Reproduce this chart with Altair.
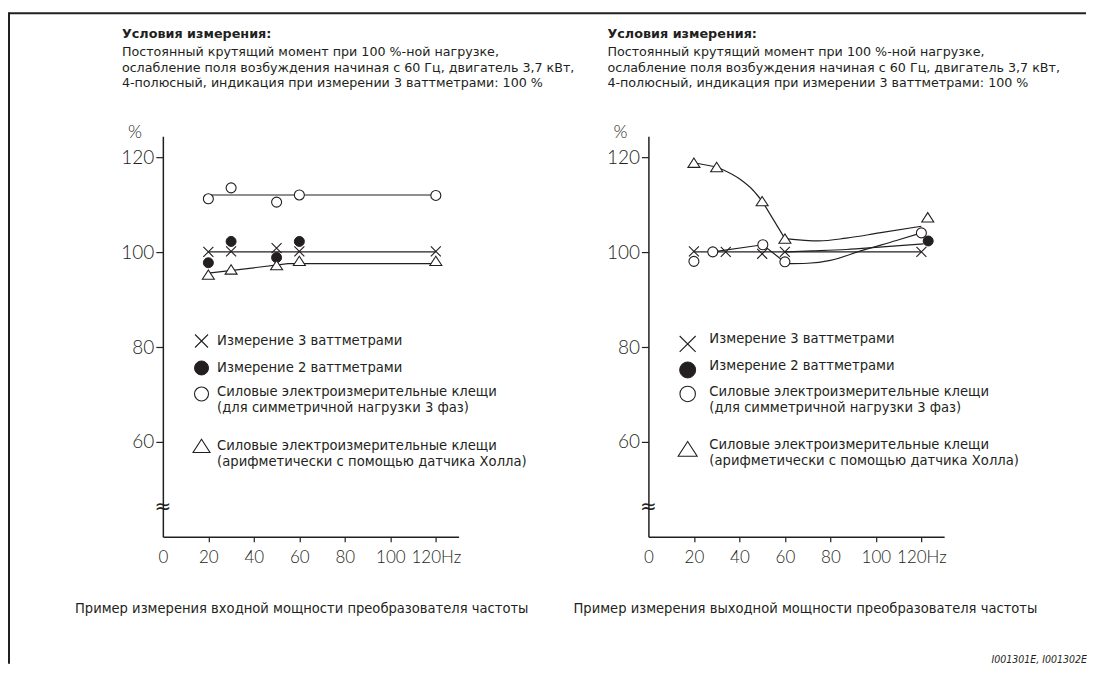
import altair as alt
import pandas as pd

INK = "#231f20"
TEXT_FONT = "DejaVu Sans"
NARROW_FONT = "DejaVu Sans Condensed"
NUM_FONT = "Lato"

HZ_TICKS = [0, 20, 40, 60, 80, 100, 120]
PCT_TICKS = [60, 80, 100, 120]

# ---------------- left panel: input power ----------------
L_W3_HZ = [20, 30, 50, 60, 120]
L_W3_PCT = [100.1, 100.2, 100.9, 100.2, 100.2]
L_W2_HZ = [20, 30, 50, 60]
L_W2_PCT = [97.8, 102.3, 98.9, 102.3]
L_SYM_HZ = [20, 30, 50, 60, 120]
L_SYM_PCT = [111.3, 113.6, 110.6, 112.1, 112.0]
L_HALL_HZ = [20, 30, 50, 60, 120]
L_HALL_PCT = [95.3, 96.4, 97.3, 98.2, 98.2]

L_W3_FIT_HZ = [20, 120]
L_W3_FIT_PCT = [100.1, 100.1]
L_SYM_FIT_HZ = [20, 120]
L_SYM_FIT_PCT = [112.1, 112.1]
L_HALL_FIT_HZ = [20, 55, 120]
L_HALL_FIT_PCT = [95.6, 97.6, 97.6]

# ---------------- right panel: output power ----------------
R_W3_HZ = [20, 34, 50, 60, 120]
R_W3_PCT = [100.2, 100.1, 99.7, 100.1, 100.1]
R_W2_HZ = [123]
R_W2_PCT = [102.4]
R_SYM_HZ = [20, 28.3, 50.3, 60, 120]
R_SYM_PCT = [98.1, 100.1, 101.6, 98.0, 104.1]
R_HALL_HZ = [20, 30, 50, 60, 122.8]
R_HALL_PCT = [118.9, 118.0, 110.8, 102.9, 107.4]

# straight connecting lines
R_W3_FIT_HZ = [20, 120]
R_W3_FIT_PCT = [100.1, 100.1]
R_SYM_SEG_HZ = [28.3, 50.3, 60]
R_SYM_SEG_PCT = [100.1, 101.6, 97.9]
R_HALL_SEG1_HZ = [20, 30]
R_HALL_SEG1_PCT = [118.9, 118.0]
R_HALL_SEG2_HZ = [50, 60]
R_HALL_SEG2_PCT = [110.8, 102.9]
# smooth curves
R_HALL_CURVE1_HZ = [30, 40, 46, 50]
R_HALL_CURVE1_PCT = [118.0, 115.5, 113.1, 110.8]
R_HALL_CURVE2_HZ = [60, 75, 87, 101.5, 120]
R_HALL_CURVE2_PCT = [102.9, 102.4, 103.0, 104.1, 105.5]
R_SYM_CURVE_HZ = [60, 70, 80, 94, 109, 120]
R_SYM_CURVE_PCT = [97.6, 97.7, 98.3, 100.4, 102.5, 104.1]
R_W2_CURVE_HZ = [60, 72, 87, 101.5, 121]
R_W2_CURVE_PCT = [100.1, 100.3, 100.6, 101.1, 101.8]

# ---------------- texts ----------------
HEADER_TITLE = "Условия измерения:"
HEADER_LINES = [
    "Постоянный крутящий момент при 100 %-ной нагрузке,",
    "ослабление поля возбуждения начиная с 60 Гц, двигатель 3,7 кВт,",
    "4-полюсный, индикация при измерении 3 ваттметрами: 100 %",
]
LEGEND_KINDS = ["w3", "w2", "sym", "hall"]
LEGEND_LINES = [
    ["Измерение 3 ваттметрами"],
    ["Измерение 2 ваттметрами"],
    ["Силовые электроизмерительные клещи", "(для симметричной нагрузки 3 фаз)"],
    ["Силовые электроизмерительные клещи", "(арифметически с помощью датчика Холла)"],
]
CAPTIONS = [
    "Пример измерения входной мощности преобразователя частоты",
    "Пример измерения выходной мощности преобразователя частоты",
]
CODE_LABEL = "I001301E, I001302E"
Y_UNIT = "%"
BREAK_MARK = "≈"

# ---------------- helpers ----------------
CROSS = "M-1,-1L1,1M-1,1L1,-1"
TRI = "M0,-0.78L1,0.78L-1,0.78Z"

STYLE = {
    "w3": dict(shape=CROSS, filled=False, stroke=INK, strokeWidth=1.1, opacity=1),
    "w2": dict(shape="circle", filled=True, fill=INK, stroke=INK, strokeWidth=1, opacity=1),
    "sym": dict(shape="circle", filled=True, fill="white", stroke=INK, strokeWidth=1.1, opacity=1),
    "hall": dict(shape=TRI, filled=True, fill="white", stroke=INK, strokeWidth=1.1, opacity=1),
}
DATA_SIZE = {"w3": 100, "w2": 100, "sym": 100, "hall": 144}

X_SCALE = alt.Scale(domain=[0, 130], nice=False, zero=False)
Y_SCALE = alt.Scale(domain=[40, 124.5], nice=False, zero=False)

X_AXIS = alt.Axis(
    values=HZ_TICKS, title=None, grid=False,
    labelExpr="datum.value == 120 ? '120Hz' : datum.label",
    labelFont=NUM_FONT, labelFontSize=17, labelFontWeight=300, labelColor=INK,
    labelFlush=False, labelOverlap=False, labelPadding=8,
    tickSize=5, tickColor=INK, tickWidth=1.2,
    tickOpacity={"condition": {"test": "datum.value === 0", "value": 0}, "value": 1},
    domainColor=INK, domainWidth=1.5,
)
Y_AXIS = alt.Axis(
    values=PCT_TICKS, title=None, grid=False,
    labelFont=NUM_FONT, labelFontSize=19, labelFontWeight=300, labelColor=INK,
    labelFlush=False, labelOverlap=False, labelPadding=2,
    tickSize=7, tickColor=INK, tickWidth=1.2,
    domainColor=INK, domainWidth=1.5,
)


def xy():
    return dict(
        x=alt.X("hz:Q", scale=X_SCALE, axis=X_AXIS),
        y=alt.Y("pct:Q", scale=Y_SCALE, axis=Y_AXIS),
    )


def series(hz, pct, **extra):
    d = {"hz": hz, "pct": pct}
    for k, v in extra.items():
        d[k] = [v] * len(hz)
    return pd.DataFrame(d)


def txt(s, x, y, size, weight="normal", align="left", font=TEXT_FONT, style="normal"):
    return alt.Chart(pd.DataFrame({"t": [s]})).mark_text(
        align=align, baseline="middle", font=font, fontSize=size,
        fontWeight=weight, fontStyle=style, color=INK,
    ).encode(x=alt.value(x), y=alt.value(y), text="t:N")


def block(lines, x, first_center, size, line_height, font=TEXT_FONT):
    """Several lines as one text element; first_center = centre of the first line."""
    return alt.Chart(pd.DataFrame({"t": ["\n".join(lines)]})).mark_text(
        align="left", baseline="top", font=font, fontSize=size, color=INK,
        lineBreak="\n", lineHeight=line_height,
    ).encode(x=alt.value(x), y=alt.value(first_center - 0.49 * size), text="t:N")


def sym(kind, x, y, size):
    return alt.Chart(pd.DataFrame({"k": [kind]})).mark_point(
        size=size, **STYLE[kind]
    ).encode(x=alt.value(x), y=alt.value(y))


def build_panel(marks, straight, curves, legend, header_x, caption, caption_x, extras):
    layers = []
    if len(straight):
        layers.append(alt.Chart(straight).mark_line(color=INK, strokeWidth=1.2).encode(
            detail="seg:N", **xy()))
    if len(curves):
        layers.append(alt.Chart(curves).mark_line(
            color=INK, strokeWidth=1.2, interpolate="monotone").encode(detail="seg:N", **xy()))
    for kind in LEGEND_KINDS:
        sub = marks[marks["kind"] == kind]
        layers.append(alt.Chart(sub).mark_point(size=DATA_SIZE[kind], **STYLE[kind]).encode(**xy()))
    # header
    layers.append(txt(HEADER_TITLE, header_x, -102, 12.8, weight="bold"))
    layers.append(block(HEADER_LINES, header_x, -84, 12.7, 15.6))
    # unit and axis break
    layers.append(txt(Y_UNIT, -28, -3, 18, align="center", font=NUM_FONT, weight=300))
    layers.append(txt(BREAK_MARK, 0, 371, 20, align="center", font="DejaVu Sans"))
    # legend
    sx, tx, sym_ys, text_ys, sizes = legend
    for kind, lines, syy, ty, sz in zip(LEGEND_KINDS, LEGEND_LINES, sym_ys, text_ys, sizes):
        layers.append(sym(kind, sx, syy, sz))
        layers.append(block(lines, tx, ty, 13.2, 16))
    # caption
    layers.append(txt(caption, caption_x, 473, 14.6, font=NARROW_FONT))
    layers.extend(extras)
    return alt.layer(*layers).properties(width=296, height=401)


# ---- assemble left ----
L_marks = pd.concat([
    series(L_W3_HZ, L_W3_PCT, kind="w3"),
    series(L_W2_HZ, L_W2_PCT, kind="w2"),
    series(L_SYM_HZ, L_SYM_PCT, kind="sym"),
    series(L_HALL_HZ, L_HALL_PCT, kind="hall"),
], ignore_index=True)
L_straight = pd.concat([
    series(L_W3_FIT_HZ, L_W3_FIT_PCT, seg="w3"),
    series(L_SYM_FIT_HZ, L_SYM_FIT_PCT, seg="sym"),
    series(L_HALL_FIT_HZ, L_HALL_FIT_PCT, seg="hall"),
], ignore_index=True)
L_curves = pd.DataFrame({"hz": [], "pct": [], "seg": []})

frame_top = alt.Chart(pd.DataFrame({"k": [0]})).mark_rule(color=INK, strokeWidth=2).encode(
    x=alt.value(-154), x2=alt.value(924), y=alt.value(-123))
frame_left = alt.Chart(pd.DataFrame({"k": [0]})).mark_rule(color=INK, strokeWidth=2).encode(
    x=alt.value(-154), y=alt.value(-124), y2=alt.value(528))

left = build_panel(
    L_marks, L_straight, L_curves,
    (38.7, 54.3, [205, 232, 258, 310], [205, 232, 257, 310.5], [169, 196, 196, 289]),
    -41, CAPTIONS[0], -88, [frame_top, frame_left],
)

# ---- assemble right ----
R_marks = pd.concat([
    series(R_W3_HZ, R_W3_PCT, kind="w3"),
    series(R_W2_HZ, R_W2_PCT, kind="w2"),
    series(R_SYM_HZ, R_SYM_PCT, kind="sym"),
    series(R_HALL_HZ, R_HALL_PCT, kind="hall"),
], ignore_index=True)
R_straight = pd.concat([
    series(R_W3_FIT_HZ, R_W3_FIT_PCT, seg="w3"),
    series(R_SYM_SEG_HZ, R_SYM_SEG_PCT, seg="sym"),
    series(R_HALL_SEG1_HZ, R_HALL_SEG1_PCT, seg="hall1"),
    series(R_HALL_SEG2_HZ, R_HALL_SEG2_PCT, seg="hall2"),
], ignore_index=True)
R_curves = pd.concat([
    series(R_HALL_CURVE1_HZ, R_HALL_CURVE1_PCT, seg="hallc1"),
    series(R_HALL_CURVE2_HZ, R_HALL_CURVE2_PCT, seg="hallc2"),
    series(R_SYM_CURVE_HZ, R_SYM_CURVE_PCT, seg="symc"),
    series(R_W2_CURVE_HZ, R_W2_CURVE_PCT, seg="w2c"),
], ignore_index=True)

code = txt(CODE_LABEL, 439, 524, 10.5, align="right", font=NARROW_FONT, style="italic")

right = build_panel(
    R_marks, R_straight, R_curves,
    (39.3, 61, [208, 234, 258, 313], [203, 230, 257, 309.5], [256, 256, 240, 361]),
    -41, CAPTIONS[1], -75, [code],
)

chart = alt.hconcat(left, right, spacing=190, bounds="flush").properties(
    padding={"left": 0, "top": 3, "right": 0, "bottom": 0}
).configure_view(stroke=None)

chart.save("out.html", embed_options={"renderer": "svg", "actions": False})
